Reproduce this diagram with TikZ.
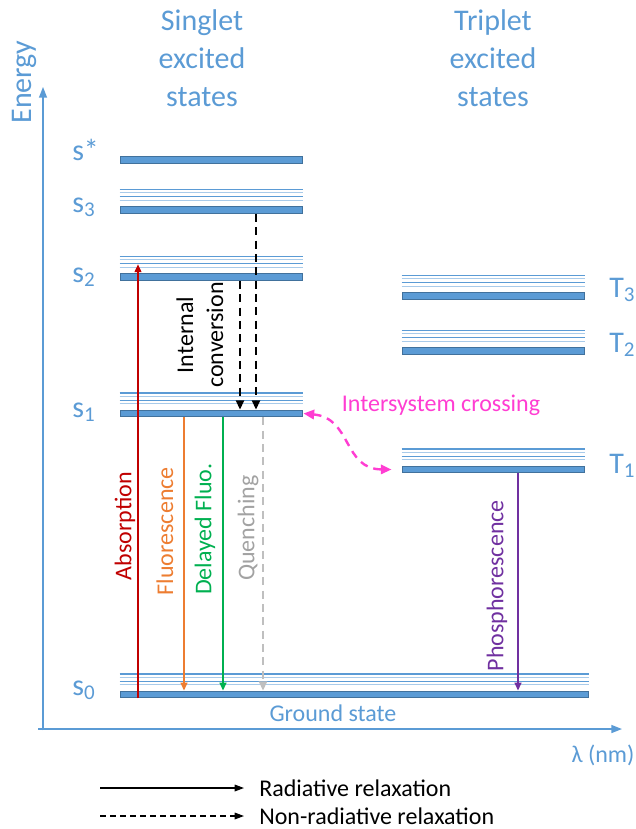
\documentclass[tikz,border=0pt]{standalone}
\usepackage{fontspec}
\setmainfont{Carlito}
\usetikzlibrary{arrows.meta,calc}
\definecolor{axisblue}{HTML}{5B9BD5}
\definecolor{barfill}{HTML}{5B9BD5}
\definecolor{barline}{HTML}{41719C}
\definecolor{viblight}{HTML}{A9CBEA}
\definecolor{vibdark}{HTML}{5B9BD5}
\definecolor{absred}{HTML}{C00000}
\definecolor{fluorange}{HTML}{ED7D31}
\definecolor{dfgreen}{HTML}{00B050}
\definecolor{quenchgrey}{HTML}{BFBFBF}
\definecolor{phospurple}{HTML}{7030A0}
\definecolor{iscpink}{HTML}{FF3DD2}
\tikzset{
  bar/.style={draw=barline, fill=barfill, line width=0.75pt, inner sep=0pt, minimum height=5pt},
  shortbar/.style={bar, minimum width=136.5pt},
  lbl/.style={text=axisblue, font=\fontsize{22.5pt}{28.5pt}\selectfont, inner sep=0pt},
  head/.style={lbl, align=center},
  small/.style={font=\fontsize{18pt}{22.5pt}\selectfont, inner sep=0pt},
  vlabel/.style={small, rotate=90, anchor=east},
  axis/.style={draw=axisblue, line width=1.1pt, -{Triangle[length=8pt,width=6pt]}},
  radarrow/.style={line width=1.5pt, -{Triangle[length=6pt,width=5pt]}},
  nonradarrow/.style={line width=1.8pt, dash pattern=on 6pt off 4pt, -{Triangle[length=7pt,width=6pt]}},
  legarrow/.style={line width=0.9pt, -{Triangle[length=7pt,width=5pt]}},
  iscarrow/.style={draw=iscpink, line width=1.8pt, dash pattern=on 6pt off 4.5pt,
    {Triangle[length=8pt,width=7pt]}-{Triangle[length=8pt,width=7pt]}},
}
\begin{document}
\begin{tikzpicture}[x=0.75pt,y=-0.75pt]
\useasboundingbox (0,0) rectangle (636,829);

% axes
\coordinate (origin) at (43,729);
\coordinate (xorigin) at (38,729);
\coordinate (ytop) at (43,87);
\coordinate (xend) at (622,729);
\draw[axis] (xorigin) -- (xend);
\draw[axis] ([yshift=-1pt]origin) -- (ytop);
\node[lbl, rotate=90] (energy) at (24,82) {Energy};
\node[small, text=axisblue] (lambda) at (603,755) {λ (nm)};

% column headings
\node[head] (singhead) at (202,58) {Singlet\\excited\\states};
\node[head] (triphead) at (493,58) {Triplet\\excited\\states};

% electronic levels
\node[shortbar] (sstar) at (211,160) {};
\node[shortbar] (s3) at (211,210) {};
\node[shortbar] (s2) at (211,277) {};
\node[shortbar] (s1) at (211,413.5) {};
\node[bar, minimum width=351pt] (s0) at (354,694.5) {};
\node[shortbar] (t3) at (493,296) {};
\node[shortbar] (t2) at (493,351) {};
\node[shortbar] (t1) at (493,469.5) {};

% vibrational sublevels above each level
\foreach \lv in {s3,s2,s1,s0,t3,t2,t1}{
  \foreach \d/\c in {4.5/viblight,7/vibdark,10/viblight,12.5/vibdark}{
    \draw[\c, line width=0.8pt] ($(\lv.north west)+(0,-\d/0.75)$) -- ($(\lv.north east)+(0,-\d/0.75)$);
  }
}

% level labels
\node[lbl, anchor=base west] (lsstar) at (72,160) {s*};
\node[lbl, anchor=base west] (ls3) at (72,212) {s\textsubscript{3}};
\node[lbl, anchor=base west] (ls2) at (72,282) {s\textsubscript{2}};
\node[lbl, anchor=base west] (ls1) at (72,417) {s\textsubscript{1}};
\node[lbl, anchor=base west] (ls0) at (72,695) {s\textsubscript{0}};
\node[lbl, anchor=base west] (lt3) at (609,297) {T\textsubscript{3}};
\node[lbl, anchor=base west] (lt2) at (609,352) {T\textsubscript{2}};
\node[lbl, anchor=base west] (lt1) at (609,473) {T\textsubscript{1}};
\node[small, text=axisblue] (ground) at (333,713) {Ground state};

% transition columns
\coordinate (cabs) at (138,0);
\coordinate (cfl) at (184,0);
\coordinate (cdf) at (223,0);
\coordinate (cq) at (263,0);
\coordinate (cic1) at (240,0);
\coordinate (cic2) at (256,0);
\coordinate (cph) at (518,0);

% transitions
\draw[radarrow, absred] (s0.south -| cabs) -- ($(s2.north -| cabs)+(0,-9)$);
\draw[radarrow, fluorange] (s1.south -| cfl) -- (s0.north -| cfl);
\draw[radarrow, dfgreen] (s1.south -| cdf) -- (s0.north -| cdf);
\draw[nonradarrow, quenchgrey, line width=1.6pt] (s1.south -| cq) -- (s0.north -| cq);
\draw[nonradarrow] (s2.south -| cic1) -- (s1.north -| cic1);
\draw[nonradarrow] (s3.south -| cic2) -- (s1.north -| cic2);
\draw[radarrow, phospurple] (t1.south -| cph) -- (s0.north -| cph);
\draw[iscarrow] ($(s1.east)+(1,0)$) .. controls (352,418) and (343,469) .. ($(t1.west)+(-10,0)$);

% transition labels
\node[vlabel, text=absred] (labs) at (125,472) {Absorption};
\node[vlabel, text=fluorange] (lfl) at (165,467) {Fluorescence};
\node[vlabel, text=dfgreen] (ldf) at (205,463) {Delayed Fluo.};
\node[vlabel, text=quenchgrey!85!black] (lq) at (248,475) {Quenching};
\node[vlabel, text=phospurple] (lph) at (497,500) {Phosphorescence};
\node[small, rotate=90, align=center] (lic) at (200,335) {Internal\\conversion};
\node[small, text=iscpink] (lisc) at (441,405) {Intersystem crossing};

% legend
\coordinate (leg1a) at (100,788);
\coordinate (leg1b) at (244,788);
\coordinate (leg2a) at (100,816);
\coordinate (leg2b) at (244,816);
\draw[legarrow] (leg1a) -- (leg1b);
\draw[legarrow, dash pattern=on 4.5pt off 3pt] (leg2a) -- (leg2b);
\node[small, anchor=west] (leg1t) at (259,788) {Radiative relaxation};
\node[small, anchor=west] (leg2t) at (259,816) {Non-radiative relaxation};
\end{tikzpicture}
\end{document}
